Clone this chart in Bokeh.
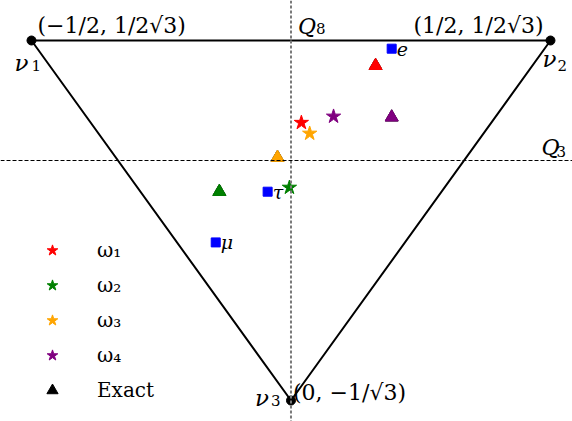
from bokeh.plotting import figure
from bokeh.models import Span, Label, Legend, LegendItem
from bokeh.embed import file_html
from bokeh.resources import INLINE
import math

# ---- data ----
vertex_x = [-0.5, 0.5, 0.0]
vertex_y = [1 / (2 * math.sqrt(3)), 1 / (2 * math.sqrt(3)), -1 / math.sqrt(3)]
vertex_symbol = ["ν", "ν", "ν"]
vertex_index = ["1", "2", "3"]
vertex_coords = ["(−1/2, 1/2√3)", "(1/2, 1/2√3)", "(0, −1/√3)"]

series_names = ["ω₁", "ω₂", "ω₃", "ω₄"]
series_colors = ["red", "green", "orange", "purple"]
fit_x = [0.020, -0.003, 0.036, 0.082]
fit_y = [0.091, -0.065, 0.065, 0.106]
exact_x = [0.163, -0.138, -0.026, 0.194]
exact_y = [0.228, -0.075, 0.007, 0.104]

flavour_names = ["e", "μ", "τ"]
flavour_x = [0.194, -0.145, -0.045]
flavour_y = [0.269, -0.197, -0.075]

FONT = "DejaVu Serif"
INK = "black"

p = figure(width=572, height=421, x_range=(-0.5597, 0.5424), y_range=(-0.6278, 0.3849),
           output_backend="svg", toolbar_location=None, min_border=0,
           x_axis_type=None, y_axis_type=None)
p.grid.visible = False
p.outline_line_color = None
p.background_fill_color = "white"

# dashed axes lines
p.add_layout(Span(location=0, dimension="height", line_color="#7a7a7a", line_width=2, line_dash="3 2"))
p.add_layout(Span(location=0, dimension="width", line_color="black", line_width=1, line_dash="4 2"))

# triangle
p.line(vertex_x + vertex_x[:1], vertex_y + vertex_y[:1], line_color="black", line_width=2)
p.scatter(vertex_x, vertex_y, size=9, color="black")

# black triangles (for the legend entry, hidden under the coloured ones)
r_exact = p.scatter(exact_x, exact_y, marker="triangle", size=13, color="black")
# exact triangles
p.scatter(exact_x, exact_y, marker="triangle", size=13, color=series_colors)
# flavour squares
p.scatter(flavour_x, flavour_y, marker="square", size=9, color="blue")

# stars with legend
items = []
for i in range(4):
    r = p.scatter([fit_x[i]], [fit_y[i]], marker="star", size=15, color=series_colors[i])
    items.append(LegendItem(label=series_names[i], renderers=[r]))
items.append(LegendItem(label="Exact", renderers=[r_exact]))

legend = Legend(items=items, location=(38, 17), padding=0, margin=0, spacing=7,
                glyph_width=28, glyph_height=28, label_height=20, label_standoff=31,
                label_text_font=FONT, label_text_font_size="20px", label_text_color=INK,
                border_line_color=None, background_fill_alpha=0)
p.add_layout(legend, "center")

# flavour labels
for i in range(3):
    p.add_layout(Label(x=flavour_x[i], y=flavour_y[i], text=flavour_names[i], x_offset=5, y_offset=0,
                       text_align="left", text_baseline="middle", text_font=FONT, text_color=INK,
                       text_font_style="italic", text_font_size="19px"))

# vertex coordinate labels
coord_offsets = [(6, 15, "left"), (-7, 15, "right"), (2, 8, "left")]
sym_offsets = [(-17, -22), (-8, -18), (-36, 3)]
sub_offsets = [(0, -25), (7, -25), (-20, 0)]
for i in range(3):
    dx, dy, al = coord_offsets[i]
    p.add_layout(Label(x=vertex_x[i], y=vertex_y[i], text=vertex_coords[i], x_offset=dx, y_offset=dy,
                       text_align=al, text_baseline="middle", text_font=FONT, text_color=INK,
                       text_font_size="22px"))
    dx, dy = sym_offsets[i]
    p.add_layout(Label(x=vertex_x[i], y=vertex_y[i], text=vertex_symbol[i], x_offset=dx, y_offset=dy,
                       text_align="left", text_baseline="alphabetic", text_font=FONT, text_color=INK,
                       text_font_style="italic", text_font_size="23px"))
    dx, dy = sub_offsets[i]
    p.add_layout(Label(x=vertex_x[i], y=vertex_y[i], text=vertex_index[i], x_offset=dx, y_offset=dy,
                       text_align="left", text_baseline="alphabetic", text_font=FONT, text_color=INK,
                       text_font_size="15px"))

# Q labels
q_specs = [
    (0, vertex_y[0], "Q", "8", (7, 14), (25, 12)),
    (vertex_x[1], 0, "Q", "3", (-9, 13), (6, 9)),
]
for qx, qy, s, sub, (mx, my), (sx, sy) in q_specs:
    p.add_layout(Label(x=qx, y=qy, text=s, x_offset=mx, y_offset=my, text_align="left",
                       text_baseline="alphabetic", text_font=FONT, text_font_style="italic",
                       text_color=INK, text_font_size="22px"))
    p.add_layout(Label(x=qx, y=qy, text=sub, x_offset=sx, y_offset=sy, text_align="left",
                       text_baseline="alphabetic", text_font=FONT, text_color=INK,
                       text_font_size="15px"))

open("out.html", "w").write(file_html(p, INLINE))
